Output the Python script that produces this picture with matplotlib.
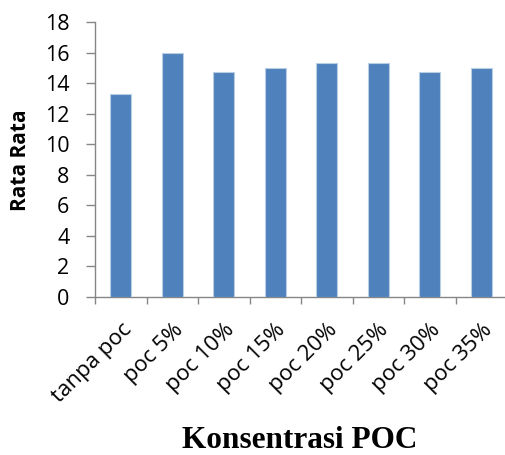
import matplotlib
matplotlib.use("Agg")
import matplotlib.pyplot as plt
import numpy as np

categories = ["tanpa poc", "poc 5%", "poc 10%", "poc 15%", "poc 20%", "poc 25%", "poc 30%", "poc 35%"]
values = [13.3, 16.0, 14.7, 15.0, 15.33, 15.33, 14.7, 15.0]
yticks = [0, 2, 4, 6, 8, 10, 12, 14, 16, 18]

fig = plt.figure(figsize=(5.05, 4.55), dpi=100)
ax = fig.add_axes([95/505, (455-297)/455, 412/505, 275/455])

x = np.arange(len(categories))
ax.bar(x, values, width=0.41, color="#4F81BD", edgecolor="#B9CDE5", linewidth=0.8, zorder=3)

ax.set_xlim(-0.5, len(categories) - 0.5)
ax.set_ylim(0, 18)
ax.set_yticks(yticks)
ax.set_yticklabels([str(t) for t in yticks], fontsize=15.5, family="Open Sans")
ax.set_xticks(x)
ax.set_xticklabels(categories, rotation=45, ha="right", rotation_mode="anchor", fontsize=16, family="Open Sans")
ax.tick_params(axis="x", which="major", length=0, pad=16)
ax.set_xticks(np.arange(-0.5, len(categories), 1), minor=True)
ax.tick_params(axis="x", which="minor", length=5, width=1, color="#868686", direction="out")
ax.tick_params(axis="y", length=6.5, width=1, color="#868686", direction="out", pad=12)

for s in ["top", "right"]:
    ax.spines[s].set_visible(False)
for s in ["left", "bottom"]:
    ax.spines[s].set_color("#868686")
    ax.spines[s].set_linewidth(1)

fig.text(21/505, 1 - 160/455, "Rata Rata", rotation=90, ha="center", va="center", fontsize=15, fontweight="bold", family="Open Sans")
fig.text(300/505, 1 - 441/455, "Konsentrasi POC", ha="center", va="center", fontsize=22.5, fontweight="bold", family="Liberation Serif")

fig.savefig("out.png", dpi=100)
